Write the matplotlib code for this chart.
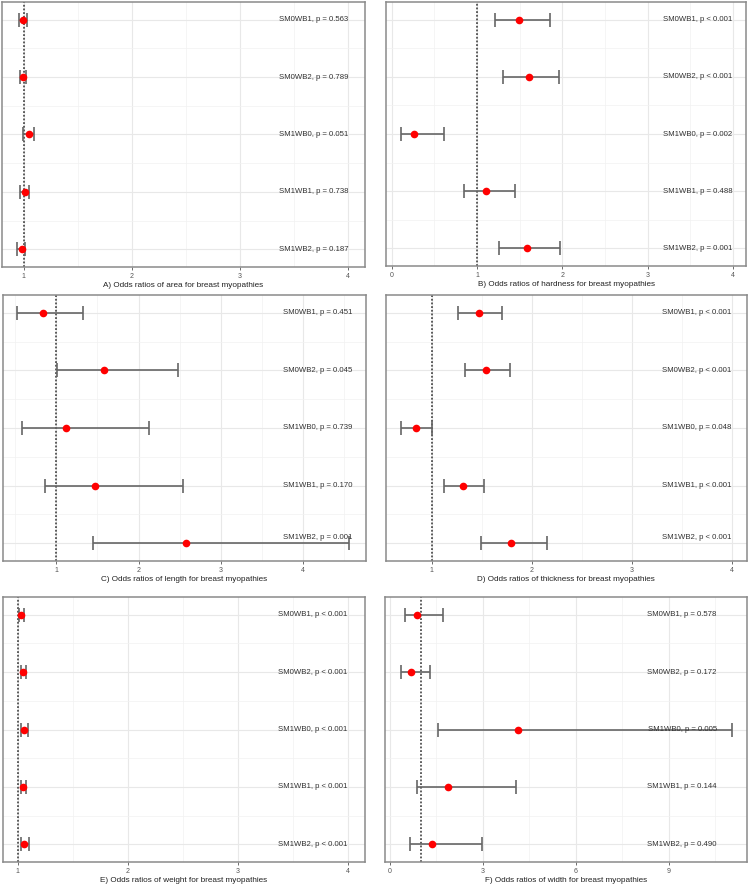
import matplotlib
matplotlib.use("Agg")
import matplotlib.pyplot as plt
from matplotlib.ticker import FixedLocator

plt.rcParams['font.family'] = ['Liberation Sans', 'DejaVu Sans']

groups = ["SM0WB1", "SM0WB2", "SM1WB0", "SM1WB1", "SM1WB2"]

titles = [
    "A) Odds ratios of area for breast myopathies",
    "B) Odds ratios of hardness for breast myopathies",
    "C) Odds ratios of length for breast myopathies",
    "D) Odds ratios of thickness for breast myopathies",
    "E) Odds ratios of weight for breast myopathies",
    "F) Odds ratios of width for breast myopathies",
]

or_area = [0.994, 0.995, 1.046, 1.012, 0.985]
lo_area = [0.96, 0.97, 0.99, 0.97, 0.94]
hi_area = [1.03, 1.025, 1.10, 1.05, 1.01]
p_area = ["p = 0.563", "p = 0.789", "p = 0.051", "p = 0.738", "p = 0.187"]

or_hard = [1.494, 1.603, 0.258, 1.103, 1.584]
lo_hard = [1.21, 1.31, 0.113, 0.848, 1.26]
hi_hard = [1.857, 1.963, 0.618, 1.439, 1.975]
p_hard = ["p < 0.001", "p < 0.001", "p = 0.002", "p = 0.488", "p = 0.001"]

or_len = [0.837, 1.58, 1.118, 1.47, 2.573]
lo_len = [0.52, 1.008, 0.58, 0.858, 1.45]
hi_len = [1.325, 2.48, 2.126, 2.54, 4.557]
p_len = ["p = 0.451", "p = 0.045", "p = 0.739", "p = 0.170", "p = 0.001"]

or_thick = [1.473, 1.547, 0.84, 1.31, 1.793]
lo_thick = [1.267, 1.333, 0.693, 1.127, 1.49]
hi_thick = [1.707, 1.787, 1.0, 1.527, 2.153]
p_thick = ["p < 0.001", "p < 0.001", "p = 0.048", "p < 0.001", "p < 0.001"]

or_weight = [1.033, 1.05, 1.06, 1.05, 1.06]
lo_weight = [1.01, 1.027, 1.035, 1.027, 1.035]
hi_weight = [1.06, 1.079, 1.09, 1.079, 1.10]
p_weight = ["p < 0.001", "p < 0.001", "p < 0.001", "p < 0.001", "p < 0.001"]

or_width = [0.88, 0.667, 4.14, 1.86, 1.366]
lo_width = [0.48, 0.355, 1.56, 0.86, 0.645]
hi_width = [1.72, 1.29, 11.02, 4.05, 2.98]
p_width = ["p = 0.578", "p = 0.172", "p = 0.005", "p = 0.144", "p = 0.490"]

panels = [
    (or_area, lo_area, hi_area, p_area),
    (or_hard, lo_hard, hi_hard, p_hard),
    (or_len, lo_len, hi_len, p_len),
    (or_thick, lo_thick, hi_thick, p_thick),
    (or_weight, lo_weight, hi_weight, p_weight),
    (or_width, lo_width, hi_width, p_width),
]

# layout (pixels of a 750x884 image): left, right, top, bottom
W, H = 750, 884
boxes = [
    (2, 365, 2, 267),
    (386, 746, 2, 266),
    (3, 366, 295, 561),
    (386, 746.5, 295, 561),
    (3, 365, 597, 862),
    (385, 746.5, 597, 862),
]
xlims = [(0.80, 4.155), (-0.066, 4.15), (0.35, 4.77), (0.543, 4.15), (0.867, 4.157), (-0.16, 11.5)]
major = [[1, 2, 3, 4], [0, 1, 2, 3, 4], [1, 2, 3, 4], [1, 2, 3, 4], [1, 2, 3, 4], [0, 3, 6, 9]]
minor = [[1.5, 2.5, 3.5], [0.5, 1.5, 2.5, 3.5], [0.5, 1.5, 2.5, 3.5, 4.5], [0.5, 1.5, 2.5, 3.5],
         [1.5, 2.5, 3.5], [1.5, 4.5, 7.5, 10.5]]
text_x = [4.0, 3.99, 4.6, 4.0, 4.0, 10.54]
label_dy = [[0, 0, 0, 0, 0], [0, 0, 0, 0, 0], [0, 0, 0, 0, 4], [0, 0, 0, 0, 4], [0, 0, 0, 0, 0], [0, 0, 0, 0, 0]]

fig = plt.figure(figsize=(W / 100, H / 100), dpi=100)
ypos = [5, 4, 3, 2, 1]

for i, (vals, lo, hi, pv) in enumerate(panels):
    l, r, t, b = boxes[i]
    ax = fig.add_axes([l / W, 1 - b / H, (r - l) / W, (b - t) / H])
    ax.set_xlim(*xlims[i])
    ax.set_ylim(0.69, 5.31)
    ax.xaxis.set_major_locator(FixedLocator(major[i]))
    ax.xaxis.set_minor_locator(FixedLocator(minor[i]))
    ax.yaxis.set_major_locator(FixedLocator(ypos))
    ax.yaxis.set_minor_locator(FixedLocator([1.5, 2.5, 3.5, 4.5]))
    ax.grid(which='major', color='#e8e8e8', linewidth=0.8)
    ax.grid(which='minor', color='#f2f2f2', linewidth=0.5)
    ax.set_axisbelow(True)
    ax.set_yticklabels([])
    ax.tick_params(axis='y', which='both', length=0)
    ax.tick_params(axis='x', which='minor', length=0)
    ax.tick_params(axis='x', which='major', length=2.5, width=0.6, color='#555555',
                   labelsize=5, labelcolor='#555555', pad=1.5)
    for s in ax.spines.values():
        s.set_color('#8a8a8a')
        s.set_linewidth(1.1)
    ax.axvline(1, color='#333333', linestyle=(0, (1.2, 1.2)), linewidth=1.1, zorder=2)
    xerr = [[v - a for v, a in zip(vals, lo)], [c - v for v, c in zip(vals, hi)]]
    ax.errorbar(vals, ypos, xerr=xerr, fmt='none', ecolor='#666666', elinewidth=1.2,
                capsize=5, capthick=1.2, zorder=3)
    ax.plot(vals, ypos, 'o', color='#ff0000', markersize=5.5, markeredgewidth=0, zorder=4)
    for j, g in enumerate(groups):
        ax.annotate(f"{g}, {pv[j]}", (text_x[i], ypos[j]), xytext=(0, label_dy[i][j]),
                    textcoords='offset points', ha='right', va='center',
                    fontsize=5.6, color='#333333', zorder=5)
    ax.set_xlabel(titles[i], fontsize=5.9, color='#222222', labelpad=1.5)

fig.savefig("out.png", dpi=100)
